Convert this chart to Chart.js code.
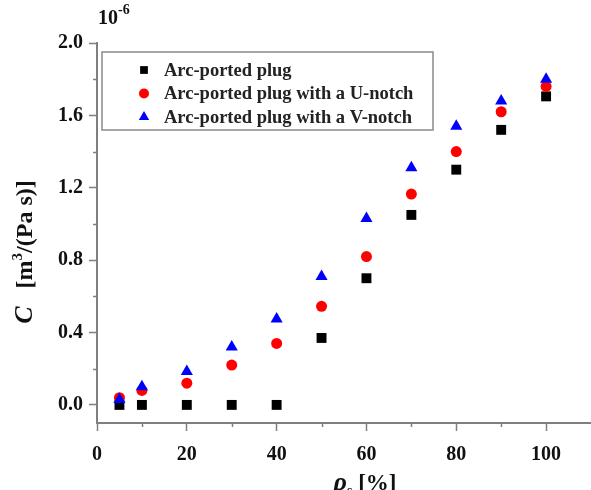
<!DOCTYPE html>
<html>
<head>
<meta charset="utf-8">
<script src="https://cdn.jsdelivr.net/npm/chart.js@4.4.1/dist/chart.umd.min.js"></script>
<style>
html,body{margin:0;padding:0;background:#fff;}
#wrap{width:591px;height:490px;position:relative;}
</style>
</head>
<body>
<div id="wrap"><canvas id="c" width="591" height="490"></canvas></div>
<script>
// ---- data (C in units of 10^-6 m^3/(Pa s)) ----
const openings = [5, 10, 20, 30, 40, 50, 60, 70, 80, 90, 100];
const arcPorted = [0, 0, 0, 0, 0, 0.37, 0.70, 1.05, 1.30, 1.52, 1.705];
const arcPortedU = [0.04, 0.08, 0.12, 0.22, 0.34, 0.545, 0.82, 1.165, 1.40, 1.62, 1.76];
const arcPortedV = [0.03, 0.10, 0.185, 0.32, 0.475, 0.71, 1.03, 1.31, 1.54, 1.68, 1.80];
const seriesNames = ['Arc-ported plug', 'Arc-ported plug with a U-notch', 'Arc-ported plug with a V-notch'];
const xTicks = [0, 20, 40, 60, 80, 100];
const xMinorTicks = [10, 30, 50, 70, 90];
const yTicks = [0.0, 0.4, 0.8, 1.2, 1.6, 2.0];
const yMinorTicks = [0.2, 0.6, 1.0, 1.4, 1.8];

const SERIF = '"Liberation Serif", "Times New Roman", serif';
const AXIS = '#7f7f7f';

function pts(ys){ return openings.map((x,i)=>({x:x, y:ys[i]})); }

const minorTicks = {
  id: 'minorTicks',
  afterDraw(chart){
    const ctx = chart.ctx, xs = chart.scales.x, ys = chart.scales.y;
    ctx.save();
    ctx.strokeStyle = AXIS; ctx.lineWidth = 1.5;
    xMinorTicks.forEach(v=>{
      const px = Math.round(xs.getPixelForValue(v))+0.5;
      ctx.beginPath(); ctx.moveTo(px, xs.top); ctx.lineTo(px, xs.top+4); ctx.stroke();
    });
    yMinorTicks.forEach(v=>{
      const py = Math.round(ys.getPixelForValue(v))+0.5;
      ctx.beginPath(); ctx.moveTo(ys.right, py); ctx.lineTo(ys.right-4, py); ctx.stroke();
    });
    ctx.restore();
  }
};

const textPlugin = {
  id: 'texts',
  afterDraw(chart){
    const ctx = chart.ctx, ca = chart.chartArea;
    ctx.save();
    ctx.fillStyle = '#111';
    // 10^-6 multiplier
    ctx.textBaseline = 'alphabetic'; ctx.textAlign = 'left';
    ctx.font = 'bold 20px ' + SERIF;
    ctx.fillText('10', ca.left + 1, 24);
    const w10 = ctx.measureText('10').width;
    ctx.font = 'bold 14px ' + SERIF;
    ctx.fillText('-6', ca.left + 1 + w10, 14);

    // y axis title (rotated)
    ctx.save();
    ctx.translate(32, (ca.top + ca.bottom)/2 + 19);
    ctx.rotate(-Math.PI/2);
    const parts = [
      {t:'C', f:'italic bold 26px ' + SERIF, dy:0},
      {t:'   [m', f:'bold 24px ' + SERIF, dy:0},
      {t:'3', f:'bold 15px ' + SERIF, dy:-10},
      {t:'/(Pa s)]', f:'bold 24px ' + SERIF, dy:0}
    ];
    let total = 0;
    parts.forEach(p=>{ ctx.font = p.f; p.w = ctx.measureText(p.t).width; total += p.w; });
    let x0 = -total/2;
    parts.forEach(p=>{ ctx.font = p.f; ctx.fillText(p.t, x0, p.dy); x0 += p.w; });
    ctx.restore();

    // x axis title
    const xparts = [
      {t:'\u03C1', f:'italic bold 26px ' + SERIF, dy:0},
      {t:'s', f:'bold 14px ' + SERIF, dy:5},
      {t:' [%]', f:'bold 23px ' + SERIF, dy:0}
    ];
    let tw = 0;
    xparts.forEach(p=>{ ctx.font = p.f; p.w = ctx.measureText(p.t).width; tw += p.w; });
    let xx = 365 - tw/2;
    xparts.forEach(p=>{ ctx.font = p.f; ctx.fillText(p.t, xx, 490 + p.dy); xx += p.w; });

    // legend box + labels
    const bx = ca.left + 5, by = ca.top + 9, bw = 331, bh = 78;
    ctx.strokeStyle = '#8a8a8a'; ctx.lineWidth = 1.5;
    ctx.strokeRect(bx, by, bw, bh);
    ctx.font = 'bold 18.5px ' + SERIF;
    ctx.textBaseline = 'middle';
    ctx.fillStyle = '#222';
    chart.data.datasets.forEach((ds, i)=>{
      const cy = by + 18 + i*23.5;
      ctx.fillText(ds.label, bx + 62, cy + 1);
    });
    // legend markers
    chart.data.datasets.forEach((ds, i)=>{
      const cy = by + 18 + i*23.5;
      ctx.save();
      ctx.fillStyle = ds.backgroundColor; ctx.strokeStyle = ds.backgroundColor;
      Chart.helpers.drawPoint(ctx, {pointStyle: ds.pointStyle, radius: ds.legendRadius, rotation:0, borderWidth:0}, bx + 42, cy);
      ctx.restore();
    });
    ctx.restore();
  }
};

const chart = new Chart(document.getElementById('c'), {
  type: 'scatter',
  data: {
    datasets: [
      {label: seriesNames[0], data: pts(arcPorted), pointStyle:'rect', pointRadius:7, legendRadius:5.5,
       backgroundColor:'#000000', borderColor:'#000000', borderWidth:0, order:2},
      {label: seriesNames[1], data: pts(arcPortedU), pointStyle:'circle', pointRadius:5.5, legendRadius:5,
       backgroundColor:'#ff0000', borderColor:'#ff0000', borderWidth:0, order:1},
      {label: seriesNames[2], data: pts(arcPortedV), pointStyle:'triangle', pointRadius:7, legendRadius:6,
       backgroundColor:'#0000ff', borderColor:'#0000ff', borderWidth:0, order:0}
    ]
  },
  options: {
    responsive: false,
    animation: false,
    layout: {autoPadding: false, padding: {top: 43, right: 0, left: 0, bottom: 0}},
    plugins: {legend: {display:false}, tooltip: {enabled:false}},
    scales: {
      x: {
        type: 'linear', min: 0, max: 110,
        afterBuildTicks: s => { s.ticks = xTicks.map(v=>({value:v})); },
        afterFit: s => { s.height = 67; s.paddingRight = 0; s.paddingLeft = 0; },
        border: {display:true, color: AXIS, width: 2},
        grid: {drawOnChartArea:false, drawTicks:true, tickLength:8, tickColor:AXIS, tickWidth:1.5, color:AXIS},
        ticks: {color:'#111', padding:12, font:{family:SERIF, size:20, weight:'bold'}, maxRotation:0,
                callback: v => String(v)}
      },
      y: {
        type: 'linear', min: -0.1, max: 2.0,
        afterBuildTicks: s => { s.ticks = yTicks.map(v=>({value:v})); },
        afterFit: s => { s.width = 97; s.paddingTop = 0; s.paddingBottom = 0; },
        border: {display:true, color: AXIS, width: 2},
        grid: {drawOnChartArea:false, drawTicks:true, tickLength:8, tickColor:AXIS, tickWidth:1.5, color:AXIS},
        ticks: {color:'#111', padding:6, font:{family:SERIF, size:20, weight:'bold'},
                callback: v => Number(v).toFixed(1)}
      }
    }
  },
  plugins: [minorTicks, textPlugin]
});
</script>
</body>
</html>
